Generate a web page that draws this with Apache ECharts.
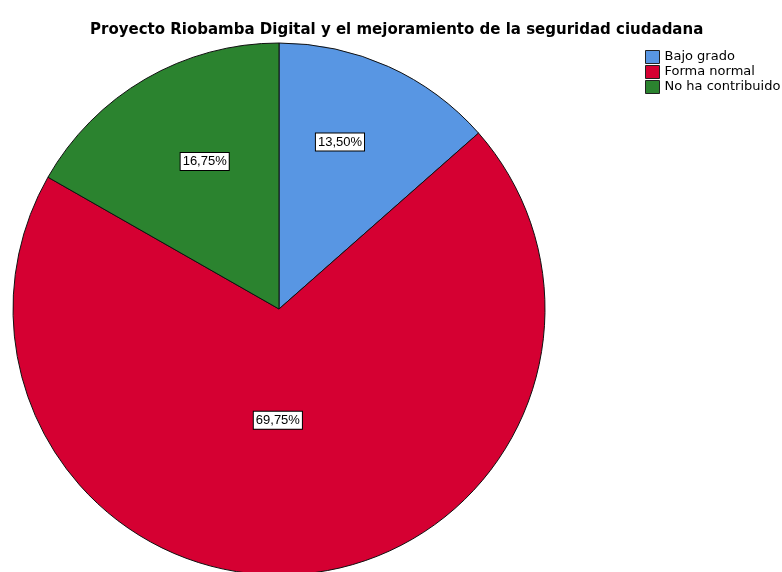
<!DOCTYPE html>
<html>
<head>
<meta charset="utf-8">
<script src="https://cdn.jsdelivr.net/npm/echarts@6/dist/echarts.min.js"></script>
<style>
  html, body { margin: 0; padding: 0; background: #fff; }
  #pie { width: 782px; height: 572px; }
</style>
</head>
<body>
<div id="pie"></div>
<script>
// datos del grafico
const categorias = ["Bajo grado", "Forma normal", "No ha contribuido"];
const porcentajes = [13.5, 69.75, 16.75];
const colores = ["#5896e3", "#d50032", "#2b832f"];

const fuente = "DejaVu Sans, Liberation Sans, Arial, sans-serif";
const myPie = echarts.init(document.getElementById("pie"), null, { renderer: "canvas" });

let option = {
  animation: false,
  backgroundColor: "#fff",
  textStyle: { fontFamily: fuente },
  title: {
    text: "Proyecto Riobamba Digital y el mejoramiento de la seguridad ciudadana",
    left: 85,
    top: 18,
    textStyle: { fontSize: 15, fontWeight: "bold", color: "#000", fontFamily: fuente },
  },
  legend: {
    orient: "vertical",
    left: 640,
    top: 45,
    icon: "rect",
    itemWidth: 14,
    itemHeight: 13,
    itemGap: 1,
    textStyle: { fontSize: 13, lineHeight: 13, color: "#000" },
    itemStyle: { borderColor: "#222", borderWidth: 1 },
    data: categorias,
  },
  series: [
    {
      type: "pie",
      center: [279, 309],
      radius: [0, 266],
      startAngle: 90,
      clockwise: true,
      avoidLabelOverlap: false,
      itemStyle: { borderColor: "#111", borderWidth: 1 },
      label: {
        show: true,
        position: "inside",
        formatter: (p) => p.value.toFixed(2).replace(".", ",") + "%",
        color: "#000",
        fontSize: 13,
        fontFamily: "Liberation Sans, Arial, sans-serif",
        backgroundColor: "#fff",
        borderColor: "#000",
        borderWidth: 1,
        padding: [2, 2, 2, 2],
      },
      // ajuste de las etiquetas como en SPSS
      labelLayout: function (params) {
        const ajuste = [[5, -43], [-15, -24], [-6, -30]];
        const a = ajuste[params.dataIndex];
        return { dx: a[0], dy: a[1] };
      },
      labelLine: { show: false },
      emphasis: { disabled: true },
      data: categorias.map((c, i) => ({
        name: c,
        value: porcentajes[i],
        itemStyle: { color: colores[i] },
      })),
    },
  ],
};
myPie.setOption(option);
</script>
</body>
</html>
